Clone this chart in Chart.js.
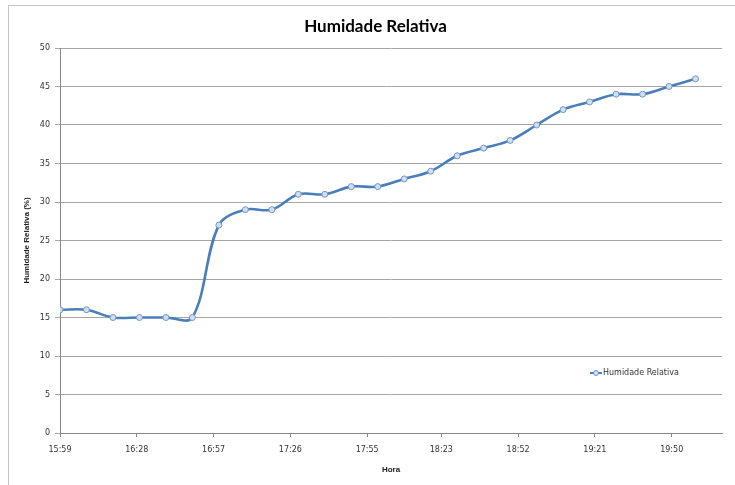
<!DOCTYPE html>
<html><head><meta charset="utf-8">
<script src="https://cdn.jsdelivr.net/npm/chart.js@4.4.1/dist/chart.umd.min.js"></script>
<style>
html,body{margin:0;padding:0;background:#fff;overflow:hidden;}
#wrap{position:relative;width:735px;height:485px;}
#frame{position:absolute;left:8px;top:5px;right:0;bottom:0;border-left:1px solid #c4c4c4;border-top:1px solid #c4c4c4;pointer-events:none;}
canvas{display:block;}
</style></head><body>
<div id="wrap"><canvas id="c" width="735" height="485"></canvas><div id="frame"></div></div>
<script>
const chartTitle = 'Humidade Relativa';
const seriesName = 'Humidade Relativa';
const xTitle = 'Hora';
const yTitle = 'Humidade Relativa (%)';
const times = ['15:59','16:09','16:19','16:29','16:39','16:49','16:59','17:09','17:19','17:29','17:39','17:49','17:59','18:09','18:19','18:29','18:39','18:49','18:59','19:09','19:19','19:29','19:39','19:49','19:59'];
const humidity = [16,16,15,15,15,15,27,29,29,31,31,32,32,33,34,36,37,38,40,42,43,44,44,45,46];
const xTickLabels = ['15:59','16:28','16:57','17:26','17:55','18:23','18:52','19:21','19:50'];
const xAxisEnd = '20:09';
const yMin = 0, yMax = 50, yStep = 5;

const toMin = t => { const [h,m] = t.split(':').map(Number); return h*60+m; };
const points = times.map((t,i) => ({x: toMin(t), y: humidity[i]}));

const insideLegend = {
  id: 'insideLegend',
  afterDraw(chart) {
    const {ctx, chartArea} = chart;
    const ds = chart.data.datasets[0];
    const x0 = chartArea.right - 132, y = chartArea.bottom - 60;
    ctx.save();
    ctx.strokeStyle = ds.borderColor; ctx.lineWidth = 2;
    ctx.beginPath(); ctx.moveTo(x0, y); ctx.lineTo(x0 + 12, y); ctx.stroke();
    ctx.beginPath(); ctx.arc(x0 + 6, y, 2.5, 0, Math.PI * 2);
    ctx.fillStyle = ds.pointBackgroundColor; ctx.fill();
    ctx.lineWidth = 1; ctx.strokeStyle = ds.pointBorderColor; ctx.stroke();
    ctx.font = '8px "DejaVu Sans"'; ctx.fillStyle = '#333';
    ctx.textBaseline = 'middle'; ctx.textAlign = 'left';
    ctx.fillText(ds.label, x0 + 13, y);
    ctx.restore();
  }
};

new Chart(document.getElementById('c'), {
  type: 'line',
  data: {
    datasets: [{
      label: seriesName,
      data: points,
      borderColor: '#4a7ebb',
      borderWidth: 2.6,
      tension: 0.35,
      pointRadius: 3,
      pointBorderWidth: 1,
      pointBorderColor: '#7196c6',
      pointBackgroundColor: '#d0deef',
      fill: false
    }]
  },
  options: {
    responsive: false,
    devicePixelRatio: 1,
    animation: false,
    layout: { padding: { left: 29, right: 13, top: 0, bottom: 0 } },
    plugins: {
      legend: { display: false },
      tooltip: { enabled: false },
      title: {
        display: true,
        text: chartTitle,
        color: '#000',
        font: { family: 'Lato', weight: 'bold', size: 17 },
        padding: { top: 16, bottom: 11.6 }
      }
    },
    scales: {
      x: {
        type: 'linear',
        min: toMin(times[0]),
        max: toMin(xAxisEnd),
        afterBuildTicks: s => { s.ticks = xTickLabels.map(t => ({value: toMin(t)})); },
        afterFit: s => { s.height = 52; },
        ticks: {
          callback: (v, i) => xTickLabels[i],
          color: '#333',
          font: { family: 'DejaVu Sans', size: 8 },
          padding: 8,
          maxRotation: 0,
          autoSkip: false
        },
        grid: { drawOnChartArea: false, drawTicks: true, tickLength: 4, color: '#868686' },
        border: { color: '#868686' },
        title: {
          display: true, text: xTitle, color: '#222',
          font: { family: 'Liberation Sans', weight: 'bold', size: 8 },
          padding: { top: 10, bottom: 10 }
        }
      },
      y: {
        min: yMin, max: yMax,
        afterFit: s => { s.width = 31; },
        ticks: {
          stepSize: yStep,
          color: '#333',
          font: { family: 'DejaVu Sans', size: 8 },
          padding: 5
        },
        grid: { color: '#a6a6a6', tickLength: 5 },
        border: { color: '#868686' },
        title: {
          display: true, text: yTitle, color: '#222',
          font: { family: 'Liberation Sans', weight: 'bold', size: 8 },
          padding: { top: -6.8, bottom: 0 }
        }
      }
    }
  },
  plugins: [insideLegend]
});
</script>
</body></html>
